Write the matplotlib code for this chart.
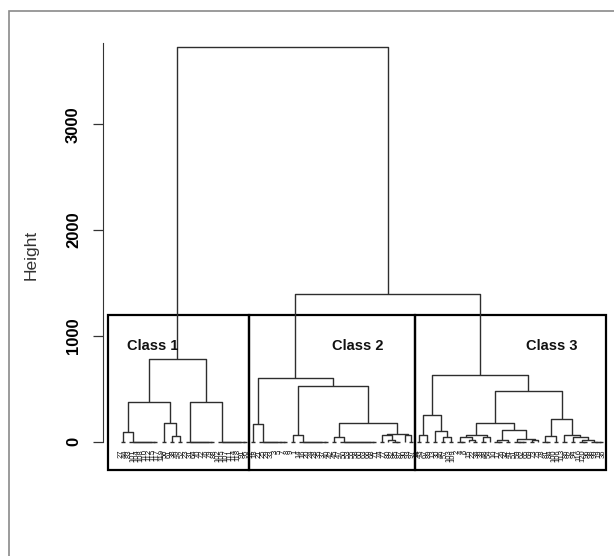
import matplotlib
matplotlib.use("Agg")
import matplotlib.pyplot as plt
from matplotlib.collections import LineCollection
from matplotlib.patches import Rectangle

plt.rcParams["font.family"] = ["Liberation Sans", "DejaVu Sans"]

# merge heights of the top of the tree
root_height = 3733
right_height = 1393

# each node: (height, left, right); a list is a group of leaves tied at height 0
class1 = (777,
          (372,
           (94, [27, 44], [83, 101, 104, 108, 110, 112, 115, 117]),
           (174, [119, 56], (50, [61, 38], [49, 52]))),
          (378, [23, 31, 64, 70, 72, 76, 79, 88],
           [102, 105, 107, 111, 114, 118, 91, 95]))

class2 = (603,
          (164, [12, 18], [21, 25, 29, 33, 3, 5, 7, 8]),
          (526,
           (60, [9, 1], [14, 16, 20, 24, 28, 35, 37, 40]),
           (174,
            (40, [42, 45], [47, 50, 53, 55, 58, 60, 63, 66, 68, 71]),
            (77,
             (60, [74, 77], (17, [80], [82, 85, 87])),
             (60, [90], [93, 97])))))

class3 = (633,
          (251,
           (60, [11, 43], [67, 89]),
           (100, [13, 30], (40, [46, 57], [103, 109]))),
          (482,
           (174,
            (67,
             (40, [2, 4, 6], (17, [15], [22, 34])),
             (40, [39, 48], [54])),
            (110,
             (17, [10, 17, 26], [32, 41]),
             (27, [51, 59, 62, 65], (17, [69, 73], [75])))),
           (214,
            (50, [78, 81, 84], [100, 106]),
            (60, [113, 86],
             (40, [92, 94], (17, [116, 120, 96], [98, 99, 19, 36]))))))

class_names = ["Class 1", "Class 2", "Class 3"]
box_top = 1197
y_ticks = [0, 1000, 2000, 3000]

segments = []
leaves = []


def chain(labels):
    if len(labels) == 1:
        return labels[0]
    return (0, labels[0], chain(labels[1:]))


def place(node):
    if isinstance(node, list):
        return place(chain(node))
    if isinstance(node, int):
        x = len(leaves) + 1
        leaves.append((x, node))
        return x, 0.0
    h, left, right = node
    xl, hl = place(left)
    xr, hr = place(right)
    segments.append([(xl, hl), (xl, h), (xr, h), (xr, hr)])
    return (xl + xr) / 2, h


tops = []
ends = []
for c in (class1, class2, class3):
    tops.append(place(c))
    ends.append(len(leaves))

(x1, h1), (x2, h2), (x3, h3) = tops
segments.append([(x2, h2), (x2, right_height), (x3, right_height), (x3, h3)])
xr = (x2 + x3) / 2
segments.append([(x1, h1), (x1, root_height), (xr, root_height), (xr, right_height)])

W, H = 614, 556
fig = plt.figure(figsize=(W / 100, H / 100), dpi=100)

# pixel layout of the plot region
x_axis_px, right_px = 103.3, 612
top_px, bottom_px = 30, 480
zero_px, px_per_unit = 441.7, 0.1058
leaf0_px, leaf_step = 121, 4.05

ax = fig.add_axes([x_axis_px / W, 1 - bottom_px / H,
                   (right_px - x_axis_px) / W, (bottom_px - top_px) / H])
ax.set_xlim((x_axis_px - leaf0_px) / leaf_step + 1, (right_px - leaf0_px) / leaf_step + 1)
ax.set_ylim((zero_px - bottom_px) / px_per_unit, (zero_px - top_px) / px_per_unit)

ax.add_collection(LineCollection(segments, colors="#2e2e2e", linewidths=1.0))

for x, lab in leaves:
    ax.text(x, -72, str(lab), rotation=90, ha="center", va="top",
            fontsize=5.5, color="#111111")

# class boxes
starts = [1 - 3.1, ends[0] + 0.7, ends[1] + 0.7]
stops = [ends[0] + 0.7, ends[1] + 0.7, ends[2] + 0.7]
box_bottom = (zero_px - 469.9) / px_per_unit
label_x = [152.3, 357.5, 551.4]
for a, b, name, lx in zip(starts, stops, class_names, label_x):
    ax.add_patch(Rectangle((a, box_bottom), b - a, box_top - box_bottom,
                           fill=False, edgecolor="black", linewidth=1.6,
                           clip_on=False))
    ax.text((lx - leaf0_px) / leaf_step + 1, 907, name, ha="center", va="center",
            fontsize=10.5, fontweight="bold", color="#111111")

for s in ["top", "right", "bottom"]:
    ax.spines[s].set_visible(False)
ax.spines["left"].set_bounds(0, 3770)
ax.spines["left"].set_color("#333333")
ax.set_xticks([])
ax.set_yticks(y_ticks)
ax.set_yticklabels([str(t) for t in y_ticks], rotation=90, va="center",
                   fontweight="bold", fontsize=12)
ax.tick_params(axis="y", length=7, width=0.9, pad=9, colors="#333333",
               labelcolor="#000000")
ax.patch.set_visible(False)

fig.text(31.4 / W, 1 - 254.6 / H, "Height", rotation=90, ha="center",
         va="center", fontsize=12.5, color="#333333")

# grey outer frame
fig.patches.append(Rectangle((8.5 / W, -0.1), 1.2, 1 - 10.5 / H + 0.1,
                             transform=fig.transFigure, fill=False,
                             edgecolor="#8a8a8a", linewidth=1.2))

fig.savefig("out.png", dpi=100)
